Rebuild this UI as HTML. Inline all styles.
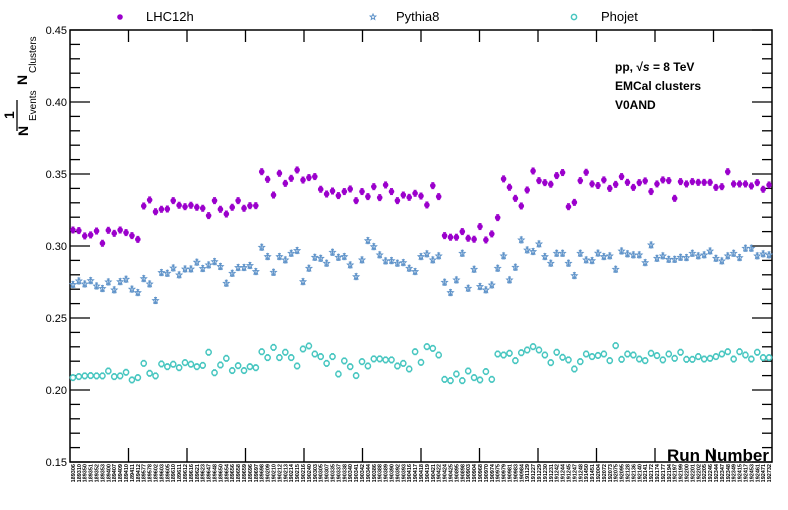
<!DOCTYPE html>
<html><head><meta charset="utf-8"><style>
html,body{margin:0;padding:0;background:#fff;}
svg{display:block;font-family:"Liberation Sans",sans-serif;}
</style></head><body>
<svg id="chart" width="788" height="510" viewBox="0 0 788 510"></svg>
<script>
const lhc12h=[0.3111,0.3107,0.3070,0.3077,0.3104,0.3019,0.3109,0.3088,0.3111,0.3093,0.3072,0.3046,
0.3278,0.3320,0.3238,0.3255,0.3257,0.3315,0.3283,0.3273,0.3283,0.3269,0.3262,0.3211,0.3315,0.3255,0.3222,0.3269,0.3315,0.3262,
0.3280,0.3280,0.3516,0.3463,0.3354,0.3505,0.3435,0.3470,0.3528,0.3458,0.3475,0.3482,0.3394,0.3361,0.3382,0.3350,0.3378,0.3396,0.3315,0.3378,0.3343,0.3412,0.3336,0.3424,0.3378,0.3315,0.3354,0.3338,0.3366,0.3347,
0.3285,0.3419,0.3343,0.3072,0.3061,0.3061,0.3100,0.3054,0.3047,0.3135,0.3042,0.3084,0.3197,0.3466,0.3408,0.3331,0.3278,0.3389,0.3521,0.3454,0.3440,0.3429,0.3489,0.3510,0.3273,0.3303,0.3454,0.3512,0.3431,0.3420,
0.3459,0.3400,0.3428,0.3482,0.3442,0.3407,0.3440,0.3452,0.3378,0.3431,0.3459,0.3454,0.3331,0.3447,0.3431,0.3447,0.3442,0.3442,0.3442,0.3407,0.3412,0.3516,0.3431,0.3431,0.3431,0.3417,0.3440,0.3394,0.3424];
const pythia8=[0.2732,0.2757,0.2736,0.2759,0.2722,0.2704,0.2750,0.2695,0.2752,0.2769,0.2700,0.2676,
0.2773,0.2736,0.2621,0.2815,0.2810,0.2847,0.2799,0.2840,0.2840,0.2887,0.2843,0.2868,0.2891,0.2857,0.2741,0.2810,0.2850,0.2850,
0.2864,0.2822,0.2991,0.2926,0.2817,0.2926,0.2903,0.2949,0.2968,0.2752,0.2845,0.2921,0.2914,0.2880,0.2956,0.2921,0.2926,0.2868,0.2787,0.2903,0.3037,0.2995,0.2938,0.2896,0.2898,0.2880,0.2884,0.2845,0.2822,0.2926,
0.2945,0.2903,0.2931,0.2748,0.2676,0.2764,0.2949,0.2706,0.2838,0.2718,0.2695,0.2729,0.2845,0.2931,0.2764,0.2852,0.3042,0.2972,0.2961,0.3014,0.2926,0.2880,0.2949,0.2949,0.2880,0.2794,0.2949,0.2903,0.2898,0.2950,
0.2926,0.2931,0.2838,0.2965,0.2945,0.2938,0.2938,0.2884,0.3007,0.2914,0.2931,0.2907,0.2907,0.2921,0.2919,0.2949,0.2931,0.2938,0.2965,0.2914,0.2896,0.2931,0.2949,0.2919,0.2984,0.2984,0.2931,0.2945,0.2938];
const phojet=[0.2086,0.2093,0.2098,0.2100,0.2098,0.2098,0.2132,0.2093,0.2098,0.2123,0.2070,0.2086,
0.2185,0.2116,0.2098,0.2181,0.2162,0.2179,0.2155,0.2190,0.2179,0.2162,0.2171,0.2262,0.2120,0.2174,0.2220,0.2135,0.2169,0.2135,
0.2162,0.2155,0.2266,0.2225,0.2296,0.2225,0.2262,0.2225,0.2167,0.2285,0.2306,0.2250,0.2232,0.2185,0.2232,0.2111,0.2202,0.2162,0.2100,0.2197,0.2167,0.2216,0.2216,0.2209,0.2209,0.2167,0.2185,0.2146,0.2266,0.2192,
0.2301,0.2289,0.2243,0.2074,0.2065,0.2111,0.2065,0.2132,0.2086,0.2070,0.2128,0.2074,0.2250,0.2243,0.2255,0.2204,0.2259,0.2278,0.2301,0.2278,0.2243,0.2190,0.2262,0.2227,0.2209,0.2146,0.2197,0.2250,0.2232,0.2240,
0.2250,0.2204,0.2308,0.2213,0.2250,0.2243,0.2215,0.2204,0.2255,0.2239,0.2209,0.2250,0.2220,0.2262,0.2213,0.2213,0.2232,0.2215,0.2220,0.2232,0.2250,0.2266,0.2215,0.2266,0.2243,0.2215,0.2262,0.2225,0.2225];
const runs=["189306","189310","189350","189351","189352","189353","189400","189407","189409","189410","189411","189412","189577","189578","189602","189603","189605","189610","189611","189612","189616","189621","189623","189647","189648","189650","189654","189656","189658","189659","189696","189697","189698","190209","190210","190212","190213","190214","190215","190216","190240","190303","190305","190307","190335","190337","190338","190340","190341","190342","190344","190386","190388","190389","190390","190392","190393","190416","190417","190418","190419","190421","190422","190424","190425","190895","190898","190903","190904","190968","190970","190974","190975","190979","190981","190983","190984","191129","191227","191229","191230","191231","191242","191244","191245","191247","191248","191450","191451","192004","192072","192073","192075","192095","192128","192136","192140","192141","192172","192174","192177","192194","192197","192199","192200","192201","192202","192205","192246","192344","192347","192348","192349","192415","192417","192453","192461","192471","192732"];
const yTicks=[0.15,0.20,0.25,0.30,0.35,0.40,0.45];
const yTickLabels=["0.15","0.20","0.25","0.30","0.35","0.40","0.45"];

const NS="http://www.w3.org/2000/svg";
const svg=document.getElementById('chart');
const L=70,R=772,T=30,B=462,yMin=0.15,yMax=0.45;
const N=runs.length, bw=(R-L)/N;
const xS=i=>L+bw*(i+0.5);
const yS=v=>B-(v-yMin)/(yMax-yMin)*(B-T);
function mk(tag,at,parent){const e=document.createElementNS(NS,tag);for(const k in at)e.setAttribute(k,at[k]);(parent||svg).appendChild(e);return e;}

const frame=mk('rect',{x:L,y:T,width:R-L,height:B-T,fill:'none',stroke:'#000','stroke-width':1.5});



const yAx=mk('g',{});


for(let k=0;k<=30;k++){
  const v=yMin+k*0.01, y=yS(v), major=(k%5===0);
  const len=major?20:10;
  mk('line',{x1:L,y1:y,x2:L+len,y2:y,stroke:'#000','stroke-width':1.3},yAx);
  mk('line',{x1:R,y1:y,x2:R-len,y2:y,stroke:'#000','stroke-width':1.3},yAx);
}
yTicks.forEach((v,i)=>{
  const t=mk('text',{x:L-3,y:yS(v)+4,'text-anchor':'end','font-size':11,fill:'#000'},yAx);
  t.textContent=yTickLabels[i];
  
  
});
for(let k=1;k<12;k++){
  const x=L+k*(R-L)/12;
  mk('line',{x1:x,y1:B,x2:x,y2:B-14,stroke:'#000','stroke-width':1.3},yAx);
  mk('line',{x1:x,y1:T,x2:x,y2:T+12,stroke:'#000','stroke-width':1.3},yAx);
}
const xl=mk('g',{});


runs.forEach((r,i)=>{
  const x=xS(i)+2;
  const t=mk('text',{x:x,y:B+2,'font-size':5.5,'font-weight':'bold',fill:'#000',transform:`rotate(-90 ${x} ${B+2})`,'text-anchor':'end'},xl);
  t.textContent=r;
  
  
});

function star(cx,cy,r,parent,col){
  let p='';for(let k=0;k<10;k++){const a=-Math.PI/2+k*Math.PI/5;const rr=k%2?r*0.45:r;p+=(k?'L':'M')+(cx+rr*Math.cos(a)).toFixed(2)+','+(cy+rr*Math.sin(a)).toFixed(2);}
  return mk('path',{d:p+'Z',fill:'none',stroke:col,'stroke-width':1},parent);
}
function series(data,name,col,kind){
  const g=mk('g',{});
  
  
  data.forEach((v,i)=>{
    const x=xS(i),y=yS(v),e=3;
    mk('line',{x1:x,y1:y-e,x2:x,y2:y+e,stroke:col,'stroke-width':1},g);
    mk('line',{x1:x-1.5,y1:y-e,x2:x+1.5,y2:y-e,stroke:col,'stroke-width':1},g);
    mk('line',{x1:x-1.5,y1:y+e,x2:x+1.5,y2:y+e,stroke:col,'stroke-width':1},g);
    let m;
    if(kind==='dot') m=mk('circle',{cx:x,cy:y,r:2.8,fill:col},g);
    else if(kind==='ring') m=mk('circle',{cx:x,cy:y,r:2.6,fill:'#fff',stroke:col,'stroke-width':1.5},g);
    else m=star(x,y,3,g,col);
    
    
  });
}
const cL='#9b00cc',cP='#5f93c9',cJ='#47c6c0';
series(phojet,'phojet',cJ,'ring');
series(pythia8,'pythia8',cP,'star');
series(lhc12h,'lhc12h',cL,'dot');

const lg=mk('g',{});


const e1=mk('circle',{cx:120,cy:17,r:2.8,fill:cL},lg);


const t1=mk('text',{x:146,y:21,'font-size':13,fill:'#000'},lg);t1.textContent='LHC12h';


const e2=star(373,17,3,lg,cP);


const t2=mk('text',{x:396,y:21,'font-size':13,fill:'#000'},lg);t2.textContent='Pythia8';


const e3=mk('circle',{cx:574,cy:17,r:2.6,fill:'#fff',stroke:cJ,'stroke-width':1.5},lg);


const t3=mk('text',{x:601,y:21,'font-size':13,fill:'#000'},lg);t3.textContent='Phojet';


</script>
<svg width="788" height="510" style="position:absolute;left:0;top:0;font-family:'Liberation Sans',sans-serif;pointer-events:none">
  <g>
    <text transform="translate(14,119) rotate(-90)" font-size="14" font-weight="bold">1</text>
    <line x1="17" y1="100" x2="17" y2="131" stroke="#000" stroke-width="1.3"/>
    <text transform="translate(28,136) rotate(-90)" font-size="14" font-weight="bold">N</text>
    <text transform="translate(36,121) rotate(-90)" font-size="10">Events</text>
    <text transform="translate(27,85) rotate(-90)" font-size="14" font-weight="bold">N</text>
    <text transform="translate(36,73) rotate(-90)" font-size="10">Clusters</text>
  </g>
  <g font-size="12" font-weight="bold">
    <text x="615" y="71">pp, √<tspan font-style="italic">s</tspan> = 8 TeV</text>
    <text x="615" y="90">EMCal clusters</text>
    <text x="615" y="109">V0AND</text>
  </g>
  <text x="667" y="461" font-size="17" font-weight="bold">Run Number</text>
</svg>
</body></html>
